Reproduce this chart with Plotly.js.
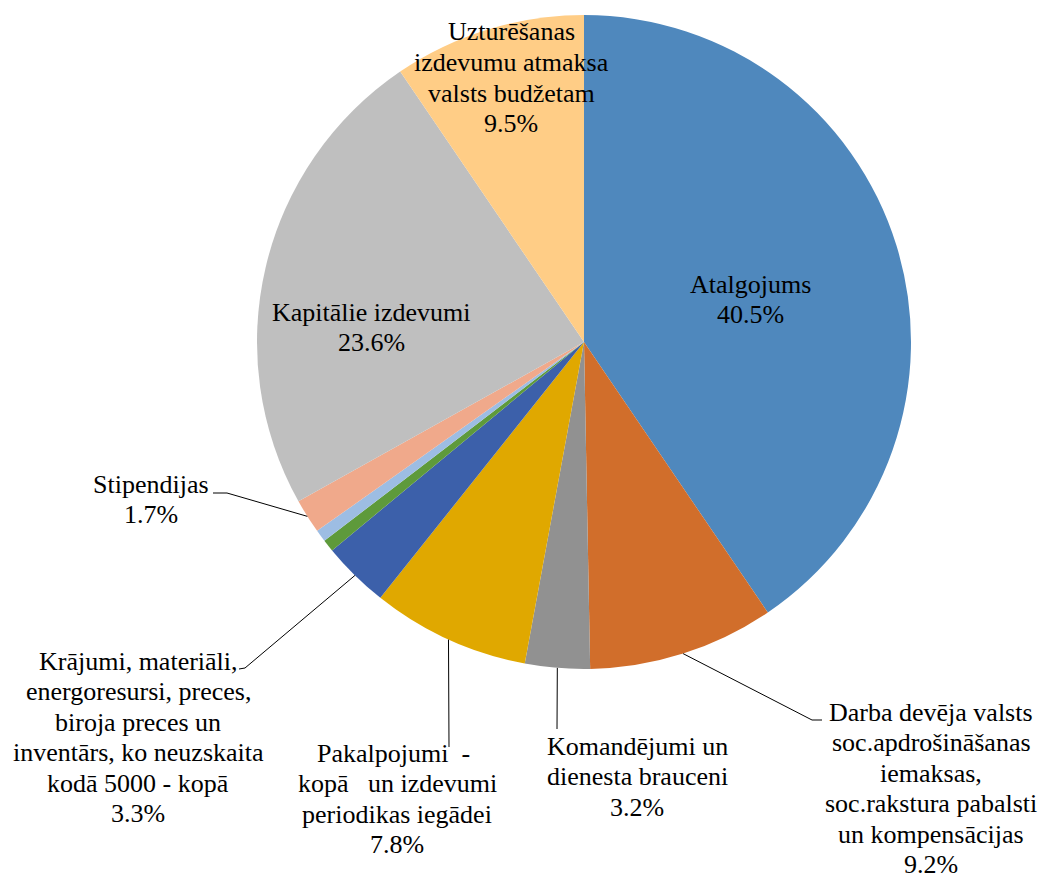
<!DOCTYPE html>
<html><head><meta charset="utf-8">
<script src="https://cdn.plot.ly/plotly-3.0.1.min.js"></script>
<style>html,body{margin:0;padding:0;background:#fff}</style>
</head><body><div id="chart" style="width:1043px;height:878px"></div>
<script>
// ---- data ----
const categories = [
  "Atalgojums",
  "Darba devēja valsts soc.apdrošināšanas iemaksas, soc.rakstura pabalsti un kompensācijas",
  "Komandējumi un dienesta brauceni",
  "Pakalpojumi  - kopā  un izdevumi periodikas iegādei",
  "Krājumi, materiāli, energoresursi, preces, biroja preces un inventārs, ko neuzskaita kodā 5000 - kopā",
  " ",
  "  ",
  "Stipendijas",
  "Kapitālie izdevumi",
  "Uzturēšanas izdevumu atmaksa valsts budžetam"
];
const shares = [40.5, 9.2, 3.2, 7.8, 3.3, 0.6, 0.6, 1.7, 23.6, 9.5];
const colors = ["#4F88BD","#D16E2B","#919191","#E0A800","#3C60AA","#5E9A3B","#9DBDE3","#F0A98B","#BFBFBF","#FFCD86"];
const labelLines = [
  ["Atalgojums"],
  ["Darba devēja valsts","soc.apdrošināšanas","iemaksas,","soc.rakstura pabalsti","un kompensācijas"],
  ["Komandējumi un","dienesta brauceni"],
  ["Pakalpojumi  - ","kopā   un izdevumi","periodikas iegādei"],
  ["Krājumi, materiāli,","energoresursi, preces,","biroja preces un","inventārs, ko neuzskaita","kodā 5000 - kopā"],
  null,
  null,
  ["Stipendijas"],
  ["Kapitālie izdevumi"],
  ["Uzturēšanas","izdevumu atmaksa","valsts budžetam"]
];

// ---- layout (pixels) ----
const W = 1043, H = 878;
const CX = 584, CY = 342, R = 327;
const FONT = 26, LINE = 30.5;
// label block: centre x, first baseline y, leader end points (null = inside label)
const labelPos = [
  {x: 750, y: 293, lead: null},
  {x: 931, y: 721, lead: [[812,720],[822,720]]},
  {x: 637, y: 755, lead: [[557,729]]},
  {x: 397, y: 762, lead: [[449,747]]},
  {x: 138, y: 670, lead: [[245,668],[239,669]]},
  null, null,
  {x: 151, y: 493, lead: [[227,493],[213,493]]},
  {x: 371, y: 321, lead: null},
  {x: 511, y: 41, lead: null}
];

const px = x => x / W;
const py = y => 1 - y / H;

const total = shares.reduce((a,b)=>a+b,0);
const annotations = [];
const shapes = [];
let cum = 0;
shares.forEach((s, i) => {
  const mid = (cum + s/2) / total * 2 * Math.PI;
  cum += s;
  const lp = labelPos[i];
  if (!lp) return;
  const lines = labelLines[i].concat([s.toFixed(1) + "%"]);
  lines.forEach((t, k) => {
    annotations.push({
      xref: "paper", yref: "paper",
      x: px(lp.x), y: py(lp.y + k*LINE - 9),
      xanchor: "center", yanchor: "middle",
      text: t, showarrow: false,
      font: {family: "Liberation Serif, Times New Roman, serif", size: FONT, color: "#000"}
    });
  });
  if (lp.lead) {
    const sx = CX + R * Math.sin(mid), sy = CY - R * Math.cos(mid);
    let path = "M " + px(sx) + " " + py(sy);
    lp.lead.forEach(p => { path += " L " + px(p[0]) + " " + py(p[1]); });
    shapes.push({type: "path", xref: "paper", yref: "paper", path: path,
      line: {color: "#000", width: 1}});
  }
});

const trace = {
  type: "pie",
  labels: categories,
  values: shares,
  sort: false,
  direction: "clockwise",
  rotation: 0,
  marker: {colors: colors, line: {width: 0}},
  textinfo: "none",
  hoverinfo: "skip",
  showlegend: false,
  domain: {x: [(CX-R)/W, (CX+R)/W], y: [1-(CY+R)/H, 1-(CY-R)/H]}
};

Plotly.newPlot("chart", [trace], {
  width: W, height: H,
  margin: {l:0, r:0, t:0, b:0},
  paper_bgcolor: "#fff",
  showlegend: false,
  annotations: annotations,
  shapes: shapes
}, {staticPlot: true});
</script>
</body></html>
